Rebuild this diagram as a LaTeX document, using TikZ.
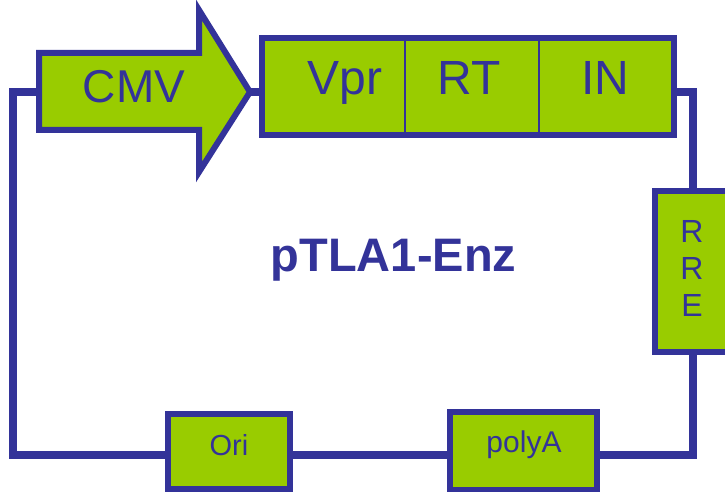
\documentclass[tikz,border=0pt]{standalone}
\usepackage{fontspec}
\setmainfont{Liberation Sans}
\definecolor{lime}{HTML}{99CC00}
\definecolor{navy}{HTML}{333399}
\tikzset{
  box/.style={draw=navy, fill=lime, line width=6pt, inner sep=0pt, rectangle, line join=miter},
  wire/.style={draw=navy, line width=8pt, line join=miter},
  thin/.style={draw=navy, line width=2pt},
  lbl/.style={text=navy, inner sep=0pt, anchor=base},
}
\begin{document}
\begin{tikzpicture}[x=1pt,y=1pt]
\clip (0,0) rectangle (725,492);
\fill[white] (0,0) rectangle (725,492);
% CMV arrow
\coordinate (cmvtail) at (39,400);
\coordinate (cmvtip) at (250,400);
\draw[box] (39,439) -- (199,439) -- (199,482) -- (cmvtip) -- (199,320) -- (199,362) -- (39,362) -- cycle;
\node[lbl] (cmv) at (134,389) {\fontsize{46}{50}\selectfont CMV};
% top box
\node[box, minimum width=411.5pt, minimum height=97.5pt] (topbox) at (467.75,405.25) {};
\draw[thin] (405,356.5) -- (405,454);
\draw[thin] (539,356.5) -- (539,454);
\node[lbl] (vpr) at (345,397) {\fontsize{48}{52}\selectfont Vpr};
\node[lbl] (rt) at (469,397) {\fontsize{48}{52}\selectfont RT};
\node[lbl] (in) at (605,397) {\fontsize{48}{52}\selectfont IN};
% RRE
\node[box, minimum width=74pt, minimum height=161pt] (rre) at (692,220.5) {};
\node[lbl] (r1) at (692,249) {\fontsize{32}{36}\selectfont R};
\node[lbl] (r2) at (692,212) {\fontsize{32}{36}\selectfont R};
\node[lbl] (e) at (692,175) {\fontsize{32}{36}\selectfont E};
% bottom boxes
\node[box, minimum width=147pt, minimum height=78pt] (polya) at (523.5,41) {};
\node[lbl] (polyatxt) at (524,39) {\fontsize{30}{33}\selectfont polyA};
\node[box, minimum width=122.5pt, minimum height=74.5pt] (ori) at (228.75,40.25) {};
\node[lbl] (oritxt) at (229,36) {\fontsize{29}{32}\selectfont Ori};
% title
\node[lbl] (title) at (393.5,220) {\fontsize{47}{52}\selectfont\bfseries pTLA1-Enz};
% wires
\coordinate (c1) at (693,400);
\coordinate (c2) at (693,37);
\coordinate (c3) at (13,37);
\coordinate (c4) at (13,400);
\draw[wire] (cmvtip) -- (cmvtip -| topbox.west);
\draw[wire] (c1 -| topbox.east) -- (c1) -- (c1 |- rre.north);
\draw[wire] (c2 |- rre.south) -- (c2) -- (c2 -| polya.east);
\draw[wire] (c2 -| polya.west) -- (c2 -| ori.east);
\draw[wire] (c3 -| ori.west) -- (c3) -- (c4) -- (cmvtail);
\end{tikzpicture}
\end{document}
